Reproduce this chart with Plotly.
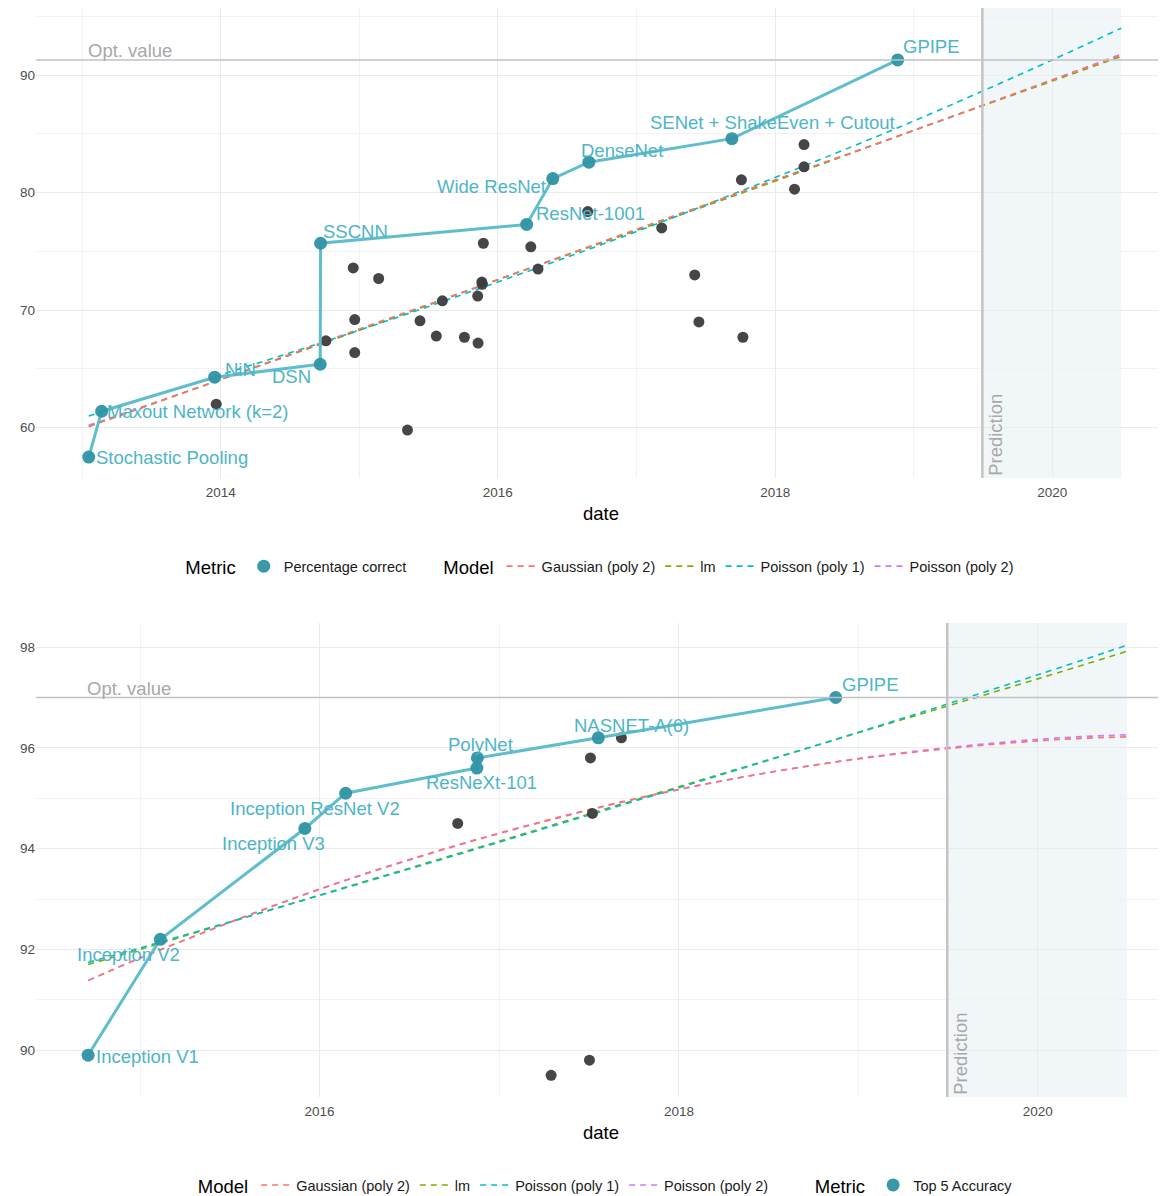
import plotly.graph_objects as go

# ---------------- Top panel data (Percentage correct) ----------------
top_sota_names = ["Stochastic Pooling", "Maxout Network (k=2)", "NiN", "DSN", "SSCNN",
                  "ResNet-1001", "Wide ResNet", "DenseNet", "SENet + ShakeEven + Cutout", "GPIPE"]
top_sota_dates = ["2013-01-18", "2013-02-21", "2013-12-16", "2014-09-20", "2014-09-21",
                  "2016-03-17", "2016-05-25", "2016-08-28", "2017-09-09", "2018-11-20"]
top_sota_values = [57.5, 61.4, 64.3, 65.4, 75.7, 77.3, 81.2, 82.6, 84.6, 91.3]

top_other_dates = ["2013-12-20", "2014-10-05", "2014-12-16", "2014-12-20", "2014-12-20",
                   "2015-02-21", "2015-05-08", "2015-06-10", "2015-07-23", "2015-08-08",
                   "2015-10-05", "2015-11-10", "2015-11-09", "2015-11-20", "2015-11-21",
                   "2015-11-24", "2016-03-28", "2016-04-16", "2016-08-25", "2017-03-08",
                   "2017-06-03", "2017-06-14", "2017-10-04", "2017-10-08", "2018-02-21",
                   "2018-03-18", "2018-03-18"]
top_other_values = [62.0, 67.4, 73.6, 69.2, 66.4,
                    72.7, 59.8, 69.1, 67.8, 70.8,
                    67.7, 67.2, 71.2, 72.4, 72.2,
                    75.7, 75.4, 73.5, 78.4, 77.0,
                    73.0, 69.0, 81.1, 67.7, 80.3,
                    84.1, 82.2]

top_fit_dates = ["2013-01-18", "2014-01-01", "2015-01-01", "2016-01-01", "2017-01-01",
                 "2018-01-01", "2019-01-01", "2020-01-01", "2020-07-01"]
top_fit_gauss = [60.1, 64.1, 68.4, 72.6, 76.9, 81.1, 85.3, 89.6, 91.7]
top_fit_lm = [60.1, 64.1, 68.3, 72.6, 76.8, 81.0, 85.3, 89.5, 91.6]
top_fit_pois1 = [61.0, 64.5, 68.3, 72.4, 76.7, 81.3, 86.1, 91.3, 94.0]
top_fit_pois2 = [60.2, 64.1, 68.3, 72.6, 76.8, 81.0, 85.3, 89.6, 91.8]
top_opt_value = 91.3

# ---------------- Bottom panel data (Top 5 Accuracy) ----------------
bot_sota_names = ["Inception V1", "Inception V2", "Inception V3", "Inception ResNet V2",
                  "ResNeXt-101", "PolyNet", "NASNET-A(6)", "GPIPE"]
bot_sota_dates = ["2014-09-17", "2015-02-11", "2015-12-02", "2016-02-23",
                  "2016-11-16", "2016-11-17", "2017-07-21", "2018-11-16"]
bot_sota_values = [89.9, 92.2, 94.4, 95.1, 95.6, 95.8, 96.2, 97.0]

bot_other_dates = ["2016-10-08", "2017-04-16", "2017-07-03", "2017-07-05", "2017-07-09", "2017-09-06"]
bot_other_values = [94.5, 89.5, 89.8, 95.8, 94.7, 96.2]

bot_fit_dates = ["2014-09-17", "2015-01-01", "2016-01-01", "2017-01-01", "2018-01-01",
                 "2019-01-01", "2020-01-01", "2020-07-01"]
bot_fit_gauss = [91.38, 91.83, 93.20, 94.31, 95.18, 95.78, 96.14, 96.22]
bot_fit_lm = [91.70, 92.00, 93.08, 94.15, 95.23, 96.30, 97.37, 97.92]
bot_fit_pois1 = [91.74, 92.03, 93.07, 94.13, 95.21, 96.31, 97.45, 98.04]
bot_fit_pois2 = [91.38, 91.83, 93.19, 94.30, 95.17, 95.79, 96.17, 96.26]
bot_opt_value = 97.0

prediction_start = "2019-07-01"
prediction_end = "2020-07-01"

model_names = ["Gaussian (poly 2)", "lm", "Poisson (poly 1)", "Poisson (poly 2)"]

# ---------------- Styles ----------------
FONT = "Liberation Sans, Arial, sans-serif"
model_colors = ["#F8766D", "#7CAE00", "#00BFC4", "#C77CFF"]
draw_order = [3, 1, 2, 0]  # purple, green, cyan, red (red drawn on top)
sota_line_color = "#5FBDCE"
sota_marker_color = "#2E93A5"
label_color = "#4DB5C8"
other_color = "#3C3C3C"
grey_text = "#A8A8A8"
grid_color = "#EBEBEB"

# label placement: (xanchor, xshift, yshift)
top_label_style = [("left", 5, 0), ("left", 3, 0), ("left", 8, 8), ("right", -7, -12),
                   ("left", 0, 12), ("left", 7, 11), ("right", -5, -8), ("left", -10, 12),
                   ("center", 41, 16), ("left", 3, 13)]
bot_label_style = [("left", 6, -1), ("center", -32, -15), ("center", -31, -15), ("center", -31, -15),
                   ("center", 5, -14), ("center", 3, 13), ("center", 33, 12), ("left", 4, 13)]

fig = go.Figure()


def add_panel(xa, ya, fit_dates, fits, other_d, other_v, sota_d, sota_v, sota_names,
              label_style, model_legend, metric_legend, metric_name, opt_value):
    xref = "x" if xa == "xaxis" else "x2"
    yref = "y" if ya == "yaxis" else "y2"
    for i in draw_order:
        fig.add_trace(go.Scatter(x=fit_dates, y=fits[i], mode="lines", name=model_names[i],
                                 line=dict(color=model_colors[i], width=1.6, dash="6px,5px"),
                                 xaxis=xref, yaxis=yref, legend=model_legend, legendrank=100 + i,
                                 line_shape="spline"))
    fig.add_trace(go.Scatter(x=other_d, y=other_v, mode="markers", showlegend=False,
                             marker=dict(color=other_color, size=11, opacity=0.95),
                             xaxis=xref, yaxis=yref))
    fig.add_trace(go.Scatter(x=sota_d, y=sota_v, mode="lines", showlegend=False,
                             line=dict(color=sota_line_color, width=3),
                             xaxis=xref, yaxis=yref))
    fig.add_trace(go.Scatter(x=sota_d, y=sota_v, mode="markers", name=metric_name,
                             marker=dict(color=sota_marker_color, size=13, opacity=0.95),
                             xaxis=xref, yaxis=yref, legend=metric_legend))
    for nm, d, v, (xan, xs, ys) in zip(sota_names, sota_d, sota_v, label_style):
        fig.add_annotation(x=d, y=v, xref=xref, yref=yref, text=nm, showarrow=False,
                           xanchor=xan, yanchor="middle", xshift=xs, yshift=ys,
                           font=dict(family=FONT, size=18.5, color=label_color))
    # prediction region
    fig.add_shape(type="rect", xref=xref, yref=yref + " domain", x0=prediction_start, x1=prediction_end,
                  y0=0, y1=1, fillcolor="#F1F6F9", line=dict(width=0), layer="below")
    fig.add_shape(type="line", xref=xref, yref=yref + " domain", x0=prediction_start, x1=prediction_start,
                  y0=0, y1=1, line=dict(color="#C4C4C4", width=2.5), layer="above")
    fig.add_annotation(x=prediction_start, y=0, xref=xref, yref=yref + " domain", text="Prediction",
                       textangle=-90, showarrow=False, xanchor="left", yanchor="bottom", xshift=0,
                       font=dict(family=FONT, size=18.5, color=grey_text))
    # optimum line
    fig.add_shape(type="line", xref=xref + " domain", yref=yref, x0=0, x1=1, y0=opt_value, y1=opt_value,
                  line=dict(color="#C2C2C2", width=1.6), layer="above")
    fig.add_annotation(x=sota_d[0], y=opt_value, xref=xref, yref=yref, text="Opt. value",
                       showarrow=False, xanchor="left", yanchor="bottom", yshift=-3, xshift=-3,
                       font=dict(family=FONT, size=18.5, color=grey_text))


add_panel("xaxis", "yaxis", top_fit_dates, [top_fit_gauss, top_fit_lm, top_fit_pois1, top_fit_pois2],
          top_other_dates, top_other_values, top_sota_dates, top_sota_values, top_sota_names,
          top_label_style, "legend2", "legend", "Percentage correct", top_opt_value)
add_panel("xaxis2", "yaxis2", bot_fit_dates, [bot_fit_gauss, bot_fit_lm, bot_fit_pois1, bot_fit_pois2],
          bot_other_dates, bot_other_values, bot_sota_dates, bot_sota_values, bot_sota_names,
          bot_label_style, "legend3", "legend4", "Top 5 Accuracy", bot_opt_value)

axis_common = dict(showline=False, zeroline=False, ticks="", gridcolor=grid_color, gridwidth=1.4,
                   tickfont=dict(family=FONT, size=13.5, color="#4D4D4D"), automargin=False)
xcommon = dict(axis_common, type="date", dtick="M24", tickformat="%Y", ticklabelstandoff=4,
               minor=dict(dtick="M12", showgrid=True, gridcolor="#F2F2F2", gridwidth=1),
               title=dict(text="date", font=dict(family=FONT, size=18.5, color="#000000"), standoff=8))

# page is offset by the 8px body margin: compensate in margins/domains
fig.update_layout(
    width=1166, height=1196,
    margin=dict(l=28, r=8, t=0, b=107),
    paper_bgcolor="white", plot_bgcolor="white",
    font=dict(family=FONT),
    xaxis=dict(xcommon, domain=[0, 1], anchor="y", range=["2012-09-01", "2020-10-27"], tick0="2014-01-01"),
    yaxis=dict(axis_common, domain=[0.5684, 1], anchor="x", range=[55.72, 95.72], tickvals=[60, 70, 80, 90],
               minor=dict(tickvals=[65, 75, 85, 95], showgrid=True, gridcolor="#F2F2F2", gridwidth=1)),
    xaxis2=dict(xcommon, domain=[0, 1], anchor="y2", range=["2014-06-03", "2020-09-18"], tick0="2016-01-01"),
    yaxis2=dict(axis_common, domain=[0, 0.4353], anchor="x2", range=[89.07, 98.48], tickvals=[90, 92, 94, 96, 98],
                minor=dict(tickvals=[91, 93, 95, 97], showgrid=True, gridcolor="#F2F2F2", gridwidth=1)),
)

leg_common = dict(orientation="h", yanchor="middle", xanchor="left", bgcolor="rgba(0,0,0,0)",
                  font=dict(family=FONT, size=14.5, color="#1A1A1A"), itemwidth=30)
title_font = dict(family=FONT, size=18.5, color="#000000")
fig.update_layout(
    legend=dict(leg_common, x=0.1304, y=0.4860, title=dict(text="Metric", font=title_font)),
    legend2=dict(leg_common, x=0.3586, y=0.4860, title=dict(text="Model", font=title_font)),
    legend3=dict(leg_common, x=0.1414, y=-0.0826, title=dict(text="Model", font=title_font)),
    legend4=dict(leg_common, x=0.6874, y=-0.0826, title=dict(text="Metric", font=title_font)),
)

fig.write_html("out.html")
